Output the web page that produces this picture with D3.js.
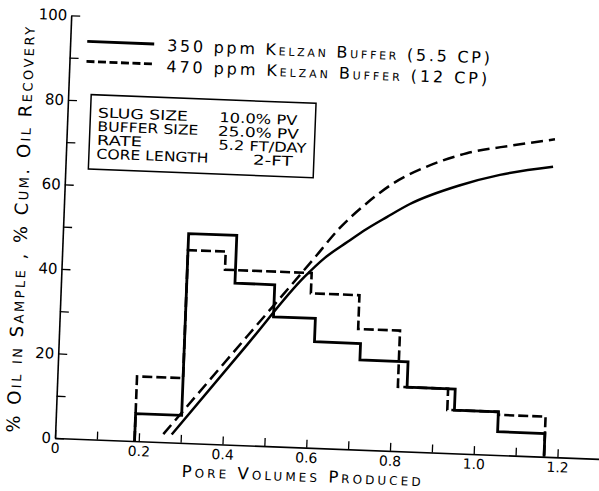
<!DOCTYPE html>
<html>
<head>
<meta charset="utf-8">
<script src="https://cdn.jsdelivr.net/npm/d3@7"></script>
<style>
  html, body { margin: 0; padding: 0; background: #fff; }
  svg text { font-family: "DejaVu Sans", sans-serif; fill: #000; }
</style>
</head>
<body>
<svg id="chart" width="599" height="491"></svg>
<script>
// Effluent fractions: bin edges (pore volumes) and % oil in each sample
const binEdges350 = [0.19, 0.30, 0.415, 0.51, 0.61, 0.72, 0.835, 0.95, 1.055, 1.168];
const oilInSample350 = [6.5, 49.5, 38.2, 30.6, 25.1, 21.2, 15.2, 10.2, 5.5];
const binEdges470 = [0.19, 0.30, 0.39, 0.597, 0.713, 0.813, 0.933, 1.055, 1.168];
const oilInSample470 = [15.3, 45.6, 41.3, 36.5, 28.5, 15.2, 10.2, 9.5];

// Cumulative oil recovery (%) against pore volumes produced
const cumPV350 = [0.278, 0.45, 0.58, 0.627, 0.68, 0.724, 0.771, 0.825, 0.943, 1.037, 1.163];
const cumRec350 = [1.9, 23.8, 40.3, 45.0, 49.0, 52.2, 55.2, 58.5, 63.4, 66.2, 68.6];
const cumPV470 = [0.258, 0.45, 0.60, 0.66, 0.722, 0.783, 0.862, 0.956, 1.066, 1.165];
const cumRec470 = [1.9, 25.9, 44.6, 52.2, 58.3, 63.2, 67.5, 71.0, 73.3, 75.1];

// Axis ticks and their labels
const xTicks = [0, 0.1, 0.2, 0.3, 0.4, 0.5, 0.6, 0.7, 0.8, 0.9, 1.0, 1.1, 1.2];
const xTickLabels = ["0", "", "0.2", "", "0.4", "", "0.6", "", "0.8", "", "1.0", "", "1.2"];
const yTicks = [0, 10, 20, 30, 40, 50, 60, 70, 80, 90, 100];
const yTickLabels = ["0", "", "20", "", "40", "", "60", "", "80", "", "100"];

// Legend and annotation text
const legendLead = ["350 ppm ", "470 ppm "];
const legendPolymer = "Kelzan Buffer";
const legendVisc = [" (5.5 CP)", " (12 CP)"];
const infoLabels = ["SLUG SIZE", "BUFFER SIZE", "RATE", "CORE LENGTH"];
const infoValues = ["10.0% PV", "25.0% PV", "5.2 FT/DAY", "2-FT"];
const xTitle = "Pore Volumes Produced";
const yTitle = "% Oil in Sample , % Cum. Oil Recovery";

// ---- layout ----
const svg = d3.select("#chart");
const g = svg.append("g").attr("transform", "translate(55,438) rotate(2.2)");

const x = d3.scaleLinear().domain([0, 1.3]).range([0, 419 * 1.3]);
const y = d3.scaleLinear().domain([0, 100]).range([0, -423]);

// axes: ticks point into the plot, labels outside
const xAxis = d3.axisBottom(x)
  .tickValues(xTicks)
  .tickFormat((d, i) => xTickLabels[i])
  .tickSizeInner(-8).tickSizeOuter(0).tickPadding(5);
const yAxis = d3.axisLeft(y)
  .tickValues(yTicks)
  .tickFormat((d, i) => yTickLabels[i])
  .tickSizeInner(-9).tickSizeOuter(0).tickPadding(4);

const gx = g.append("g").call(xAxis);
const gy = g.append("g").call(yAxis);
[gx, gy].forEach(a => {
  a.attr("font-family", null).attr("font-size", null);
  a.select(".domain").attr("stroke", "#000").attr("stroke-width", 1.6);
  a.selectAll(".tick line").attr("stroke", "#000").attr("stroke-width", 1.3);
  a.selectAll(".tick text").style("font-family", "'DejaVu Sans', sans-serif");
});
gx.selectAll(".tick text").attr("font-size", 14);
gy.selectAll(".tick text").attr("font-size", 15);

// histogram outlines
function stepPoints(edges, vals) {
  const pts = [[edges[0], 0]];
  vals.forEach((v, i) => pts.push([edges[i], v]));
  pts.push([edges[edges.length - 1], 0]);
  return pts;
}
const stepLine = d3.line().x(d => x(d[0])).y(d => y(d[1])).curve(d3.curveStepAfter);

g.append("path")
  .attr("d", stepLine(stepPoints(binEdges470, oilInSample470)))
  .attr("fill", "none").attr("stroke", "#000").attr("stroke-width", 2.6)
  .attr("stroke-dasharray", "10,4");
g.append("path")
  .attr("d", stepLine(stepPoints(binEdges350, oilInSample350)))
  .attr("fill", "none").attr("stroke", "#000").attr("stroke-width", 2.8);

// cumulative recovery curves
const curve = d3.line().x(d => x(d[0])).y(d => y(d[1])).curve(d3.curveMonotoneX);
g.append("path")
  .attr("d", curve(d3.zip(cumPV350, cumRec350)))
  .attr("fill", "none").attr("stroke", "#000").attr("stroke-width", 2.5);
g.append("path")
  .attr("d", curve(d3.zip(cumPV470, cumRec470)))
  .attr("fill", "none").attr("stroke", "#000").attr("stroke-width", 2.5)
  .attr("stroke-dasharray", "12,6");

// legend
const legendRows = [
  { y: -397.5, ty: -391, dash: null, len: 323 },
  { y: -377.5, ty: -370, dash: "8,3.5", len: 321 }
];
legendRows.forEach((r, i) => {
  g.append("line")
    .attr("x1", 17).attr("x2", 84).attr("y1", r.y).attr("y2", r.y)
    .attr("stroke", "#000").attr("stroke-width", 2.8)
    .attr("stroke-dasharray", r.dash);
  const t = g.append("text")
    .attr("x", 97).attr("y", r.ty)
    .attr("font-size", 16)
    .attr("textLength", r.len).attr("lengthAdjust", "spacing");
  t.append("tspan").text(legendLead[i]);
  t.append("tspan").style("font-variant", "small-caps").text(legendPolymer);
  t.append("tspan").text(legendVisc[i]);
});

// test-conditions box
g.append("rect")
  .attr("x", 23).attr("y", -344.5).attr("width", 225).attr("height", 74.5)
  .attr("fill", "none").attr("stroke", "#000").attr("stroke-width", 1.5);
const rowY = [-322, -308.3, -294.6, -280.9];
const labelLen = [90, 101, 45, 112];
const valueX = [152, 151, 152, 187];
const valueLen = [78, 81, 88, 40];
infoLabels.forEach((s, i) => {
  g.append("text").attr("x", 30.5).attr("y", rowY[i]).attr("font-size", 13.5)
    .attr("textLength", labelLen[i]).attr("lengthAdjust", "spacingAndGlyphs").text(s);
  g.append("text").attr("x", valueX[i]).attr("y", rowY[i]).attr("font-size", 13.5)
    .attr("textLength", valueLen[i]).attr("lengthAdjust", "spacingAndGlyphs").text(infoValues[i]);
});

// axis titles
g.append("text")
  .attr("x", 247.5).attr("y", 34)
  .attr("text-anchor", "middle").attr("font-size", 16.5)
  .style("font-variant", "small-caps")
  .attr("textLength", 239).attr("lengthAdjust", "spacing")
  .text(xTitle);
g.append("text")
  .attr("transform", "translate(-36,-206.8) rotate(-90)")
  .attr("text-anchor", "middle").attr("font-size", 18)
  .style("font-variant", "small-caps")
  .attr("textLength", 406).attr("lengthAdjust", "spacing")
  .text(yTitle);
</script>
</body>
</html>
